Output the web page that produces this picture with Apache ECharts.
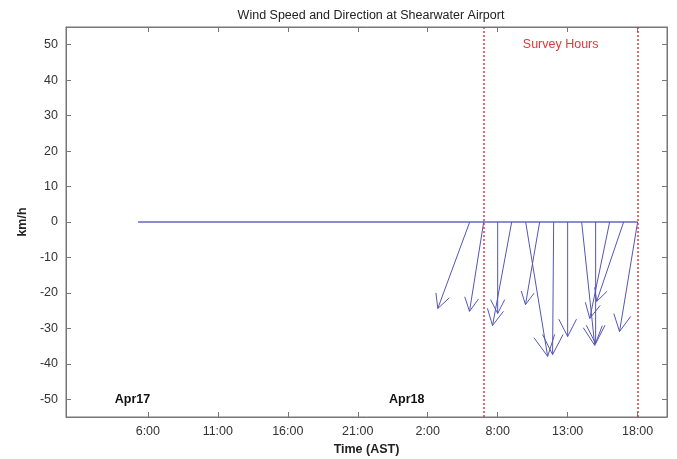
<!DOCTYPE html>
<html>
<head>
<meta charset="utf-8">
<script src="https://cdn.jsdelivr.net/npm/echarts@6/dist/echarts.min.js"></script>
<style>html,body{margin:0;padding:0;background:#fff}#c{width:677px;height:459px}</style>
</head>
<body>
<div id="c"></div>
<script>
// ---- data ----
const tickHours = [6, 11, 16, 21, 26, 31, 36, 41];
const tickLabels = ['6:00', '11:00', '16:00', '21:00', '2:00', '8:00', '13:00', '18:00'];
const yTicks = [-50, -40, -30, -20, -10, 0, 10, 20, 30, 40, 50];
const arrowTimes = [29, 30, 31, 32, 33, 34, 35, 36, 37, 38, 39, 40, 41];
const windU = [-9.0, -4.0, 0.0, -5.4, 6.2, -4.0, -0.3, 0.0, 3.7, 0.0, -5.6, -7.6, -5.1];
const windV = [-24.4, -25.2, -25.8, -29.2, -37.9, -23.3, -37.4, -32.3, -34.8, -34.3, -27.2, -22.4, -30.9];
const baselineTimes = [5.3, 41];
const surveyTimes = [30, 41];
const dayLabels = ['Apr17', 'Apr18'];
const dayLabelTimes = [4.9, 24.5];
const dayLabelY = -50;
const surveyText = 'Survey Hours';
const surveyTextPos = [35.5, 50];

const arrowData = arrowTimes.map((t, i) => [t, windU[i], windV[i]]);
const font = 'Liberation Sans, Arial, sans-serif';

const chart = echarts.init(document.getElementById('c'));
chart.setOption({
  animation: false,
  title: {
    text: 'Wind Speed and Direction at Shearwater Airport',
    left: 366, top: 4, textAlign: 'center',
    textStyle: { fontFamily: font, fontSize: 12.5, fontWeight: 'normal', color: '#222' }
  },
  grid: { left: 66, right: 10, top: 27, bottom: 42, show: true, borderColor: '#777', borderWidth: 1,
    containLabel: false, outerBoundsMode: 'none' },
  xAxis: [{
    type: 'value', min: 0.15, max: 43.1,
    name: 'Time (AST)', nameLocation: 'middle', nameGap: 25,
    nameTextStyle: { fontFamily: font, fontSize: 12.5, fontWeight: 'bold', color: '#222' },
    axisLine: { show: true, onZero: false, lineStyle: { color: '#777' } },
    axisTick: { show: true, inside: true, length: 5, customValues: tickHours, lineStyle: { color: '#777' } },
    axisLabel: { customValues: tickHours, fontFamily: font, fontSize: 12.5, color: '#333', margin: 8,
      formatter: v => { const i = tickHours.indexOf(v); return i >= 0 ? tickLabels[i] : ''; } },
    splitLine: { show: false }
  }, {
    type: 'value', position: 'top', min: 0.15, max: 43.1,
    axisLine: { show: true, onZero: false, lineStyle: { color: '#777' } },
    axisTick: { show: true, inside: true, length: 5, customValues: tickHours, lineStyle: { color: '#777' } },
    axisLabel: { show: false }, splitLine: { show: false }
  }],
  yAxis: [{
    type: 'value', min: -55, max: 55,
    name: 'km/h', nameLocation: 'middle', nameGap: 32,
    nameTextStyle: { fontFamily: font, fontSize: 12.5, fontWeight: 'bold', color: '#222' },
    axisLine: { show: true, onZero: false, lineStyle: { color: '#777' } },
    axisTick: { show: true, inside: true, length: 5, customValues: yTicks, lineStyle: { color: '#777' } },
    axisLabel: { customValues: yTicks, fontFamily: font, fontSize: 12.5, color: '#333', margin: 8 },
    splitLine: { show: false }
  }, {
    type: 'value', position: 'right', min: -55, max: 55,
    axisLine: { show: true, onZero: false, lineStyle: { color: '#777' } },
    axisTick: { show: true, inside: true, length: 5, customValues: yTicks, lineStyle: { color: '#777' } },
    axisLabel: { show: false }, splitLine: { show: false }
  }],
  series: [{
    type: 'line', xAxisIndex: 0, yAxisIndex: 0,
    data: baselineTimes.map(t => [t, 0]),
    symbol: 'none', lineStyle: { color: '#8c8cd0', width: 1.8 },
    markLine: {
      silent: true, symbol: 'none', label: { show: false },
      lineStyle: { color: '#d04040', type: [2, 2], width: 1.5 },
      data: surveyTimes.map(t => ({ xAxis: t }))
    },
    z: 3
  }, {
    type: 'custom', xAxisIndex: 0, yAxisIndex: 0,
    data: arrowData,
    renderItem: (params, api) => {
      const t = api.value(0), u = api.value(1), v = api.value(2);
      const s = api.coord([t, 0]);
      const pxPerUnit = api.size([0, 1])[1];
      const e = [s[0] + u * pxPerUnit, api.coord([t, v])[1]];
      const dx = s[0] - e[0], dy = s[1] - e[1];
      const len = Math.sqrt(dx * dx + dy * dy);
      const ang = Math.atan2(dy, dx);
      const hl = len * 0.17, ha = 27 * Math.PI / 180;
      const h1 = [e[0] + hl * Math.cos(ang + ha), e[1] + hl * Math.sin(ang + ha)];
      const h2 = [e[0] + hl * Math.cos(ang - ha), e[1] + hl * Math.sin(ang - ha)];
      const st = { stroke: '#5555b8', lineWidth: 1, fill: null };
      return { type: 'group', children: [
        { type: 'line', shape: { x1: s[0], y1: s[1], x2: e[0], y2: e[1] }, style: st },
        { type: 'polyline', shape: { points: [h1, e, h2] }, style: st }
      ] };
    },
    z: 4
  }, {
    type: 'custom', xAxisIndex: 0, yAxisIndex: 0,
    data: dayLabels.map((d, i) => [dayLabelTimes[i], dayLabelY, d]).concat([[surveyTextPos[0], surveyTextPos[1], surveyText]]),
    renderItem: (params, api) => {
      const p = api.coord([api.value(0), api.value(1)]);
      const txt = api.value(2);
      const isSurvey = txt === surveyText;
      return { type: 'text', x: p[0], y: p[1], style: {
        text: txt, align: 'center', verticalAlign: 'middle',
        font: (isSurvey ? 'normal ' : 'bold ') + '12.5px ' + font,
        fill: isSurvey ? '#e03838' : '#111'
      } };
    },
    z: 5
  }]
});
</script>
</body>
</html>
